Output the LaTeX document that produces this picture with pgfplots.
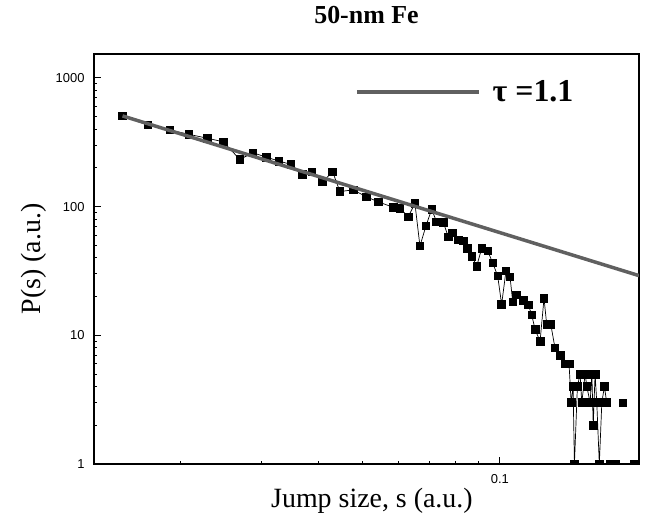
\documentclass[border=0pt]{standalone}
\usepackage{pgfplots}
\pgfplotsset{compat=1.18}
\usepackage{fontspec}
\setmainfont{Liberation Serif}
\newfontfamily\sansf{Liberation Sans}
\definecolor{fitgray}{RGB}{96,96,96}

\begin{document}
\begin{tikzpicture}
\path[use as bounding box] (-94bp,-65bp) rectangle (553bp,464bp);
\begin{axis}[
  at={(0,0)}, anchor=south west,
  scale only axis, width=545bp, height=410bp,
  xmode=log, ymode=log,
  xmin=0.0129, xmax=0.2018, ymin=1, ymax=1535,
  axis line style={line width=1.2bp},
  tick pos=left, tick align=inside,
  xtick={0.1}, xticklabels={0.1},
  minor xtick={0.02,0.03,0.04,0.05,0.06,0.07,0.08,0.09},
  ytick={1,10,100,1000}, yticklabels={1,10,100,1000},
  minor ytick={2,3,4,5,6,7,8,9,20,30,40,50,60,70,80,90,200,300,400,500,600,700,800,900},
  major tick length=7bp, minor tick length=3.5bp,
  every tick/.style={line width=1bp, black},
  /pgf/number format/assume math mode=true,
  ticklabel style={font=\sansf\fontsize{13}{13}\selectfont},
  yticklabel style={xshift=-6bp},
  xticklabel style={yshift=-7bp},
  title={50-nm Fe},
  title style={font=\bfseries\fontsize{26}{26}\selectfont, at={([yshift=33bp]axis description cs:0.5,1)}, anchor=center},
  xlabel={Jump size, s (a.u.)},
  ylabel={P(s) (a.u.)},
  label style={font=\fontsize{28}{28}\selectfont},
  xlabel style={at={([yshift=-37bp]axis description cs:0.51,0)}, anchor=center},
  ylabel style={at={([xshift=-60bp]axis description cs:0,0.5)}, anchor=center},
  clip marker paths=true,
  legend style={draw=none, fill=none, at={(axis description cs:0.479,0.907)}, anchor=west, inner sep=0pt,
    font=\bfseries\fontsize{32}{32}\selectfont, /tikz/every odd column/.style={column sep=10bp}},
  legend cell align=left,
  legend image code/.code={\draw[#1] (0bp,0bp) -- (122bp,0bp);},
]
\addplot[black, line width=0.7bp, mark=square*, mark size=3.8bp, mark options={solid, fill=black}, forget plot] coordinates {
(0.01489,506) (0.01694,431) (0.01892,394) (0.0208,365) (0.02286,340)
(0.02477,319) (0.02692,233) (0.02877,262) (0.03083,242) (0.03281,226)
(0.03483,213) (0.0369,179) (0.03873,187) (0.04088,156) (0.0430,187)
(0.04462,131) (0.04771,135) (0.05105,119) (0.05415,109) (0.0584,98.8)
(0.06041,97) (0.0630,83.5) (0.06515,106) (0.06682,49.4) (0.06888,70.7)
(0.07089,95.3) (0.07269,76.3) (0.07516,75.5) (0.07709,58.4) (0.07882,62.7)
(0.08108,55) (0.08316,54.3) (0.08484,47.4) (0.08676,41.3) (0.08898,34.5)
(0.09126,47.4) (0.09406,45.2) (0.09645,36.6) (0.09892,28.9) (0.1009,17.4)
(0.10316,31.8) (0.10527,28.5) (0.10671,18.2) (0.10884,20.6) (0.11251,18.6)
(0.11545,17.2) (0.11747,14.4) (0.11944,11.1) (0.1225,9) (0.12498,19.4)
(0.12664,12.2) (0.12929,12.2) (0.13206,8) (0.1355,7) (0.1390,6)
(0.1418,6) (0.1433,3) (0.1447,4) (0.1457,1) (0.1479,4)
(0.1499,5) (0.1512,3) (0.1538,5) (0.1551,4) (0.1577,3)
(0.1591,5) (0.1602,2) (0.1617,5) (0.1631,3) (0.1652,1)
(0.1673,3) (0.1695,4) (0.1715,3)
};
\addplot[only marks, mark=square*, mark size=3.8bp, mark options={fill=black, draw=black}, forget plot] coordinates {
(0.1744,1) (0.1789,1) (0.1860,3) (0.1972,1)
};
\addplot[fitgray, line width=3.5bp] coordinates {(0.0149,507) (0.2018,29.1)};
\addlegendentry{τ =1.1}
\end{axis}
\end{tikzpicture}
\end{document}
